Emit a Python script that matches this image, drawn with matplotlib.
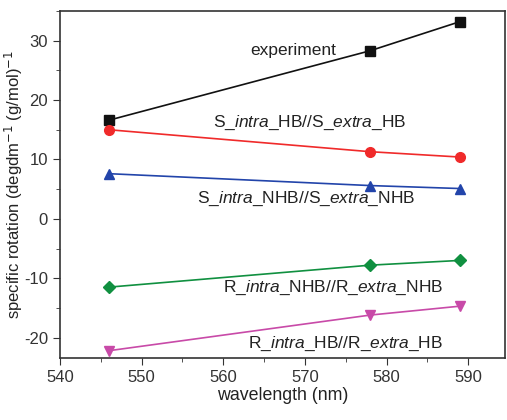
#!/usr/bin/env python
"""Specific rotation vs wavelength."""

import matplotlib
matplotlib.use('Agg')
import matplotlib.pyplot as plt
from matplotlib.ticker import MultipleLocator

plt.rcParams['font.family'] = ['Liberation Sans', 'DejaVu Sans']
plt.rcParams['mathtext.fontset'] = 'custom'
plt.rcParams['mathtext.rm'] = 'Liberation Sans'
plt.rcParams['mathtext.it'] = 'Liberation Sans:italic'
plt.rcParams['axes.unicode_minus'] = False

# data
wavelength = [546, 578, 589]
experiment = [16.6, 28.3, 33.2]
s_hb = [15.0, 11.3, 10.4]
s_nhb = [7.6, 5.6, 5.1]
r_nhb = [-11.5, -7.8, -7.0]
r_hb = [-22.2, -16.2, -14.7]

series = [
    (experiment, '#111111', 's', 'experiment', (568.6, 28.3)),
    (s_hb, '#f02a2a', 'o', r'S_$\it{intra}$_HB//S_$\it{extra}$_HB', (570.6, 16.1)),
    (s_nhb, '#2244aa', '^', r'S_$\it{intra}$_NHB//S_$\it{extra}$_NHB', (570.1, 3.4)),
    (r_nhb, '#109040', 'D', r'R_$\it{intra}$_NHB//R_$\it{extra}$_NHB', (573.5, -11.6)),
    (r_hb, '#c84aa8', 'v', r'R_$\it{intra}$_HB//R_$\it{extra}$_HB', (575.0, -21.1)),
]

fig = plt.figure(figsize=(5.07, 4.2), dpi=100)
ax = fig.add_axes([0.118, 0.148, 0.878, 0.826])

for vals, color, marker, label, pos in series:
    ms = 6 if marker == 'D' else 7
    ax.plot(wavelength, vals, color=color, marker=marker, ms=ms, lw=1.2)
    ax.text(pos[0], pos[1], label, ha='center', va='center', fontsize=12.5,
            color='#222222')

ax.set_xlim(540, 594.5)
ax.set_ylim(-23.4, 35)
ax.xaxis.set_major_locator(MultipleLocator(10))
ax.xaxis.set_minor_locator(MultipleLocator(5))
ax.yaxis.set_major_locator(MultipleLocator(10))
ax.yaxis.set_minor_locator(MultipleLocator(5))
ax.tick_params(which='major', direction='out', length=5, labelsize=12,
               colors='#333333')
ax.tick_params(which='minor', direction='out', length=3, colors='#333333')
for sp in ax.spines.values():
    sp.set_color('#333333')
    sp.set_linewidth(1.2)

ax.set_xlabel('wavelength (nm)', fontsize=12.8, color='#222222', labelpad=2)
ax.set_ylabel(r'specific rotation (degdm$^{\mathsf{-1}}$ (g/mol)$^{\mathsf{-1}}$',
              fontsize=12, color='#222222', labelpad=-1)

fig.savefig('out.png', dpi=100)
